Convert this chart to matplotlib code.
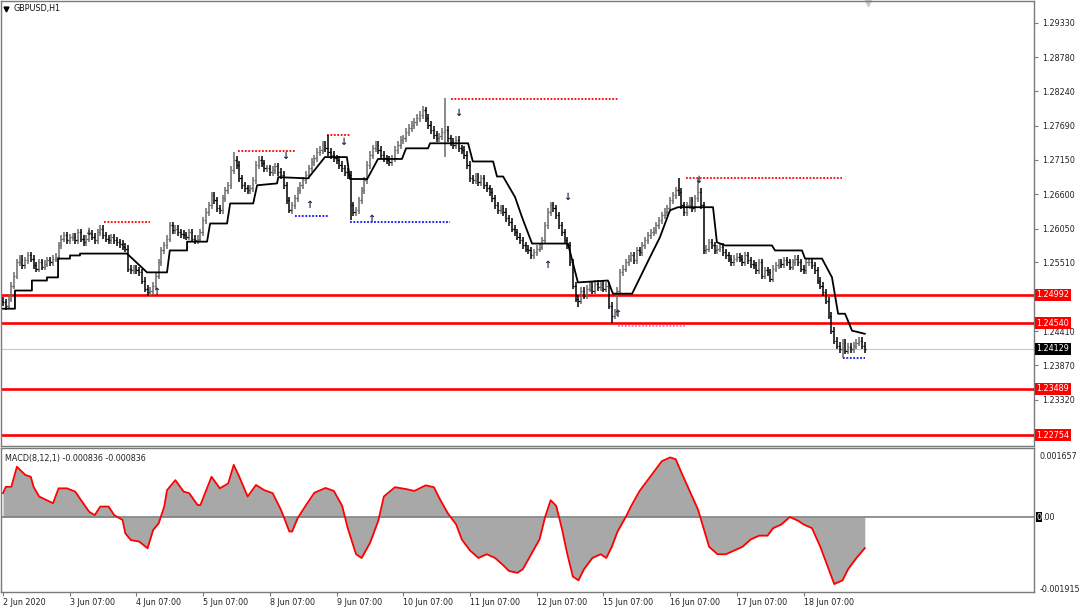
import numpy as np
import matplotlib
matplotlib.use("Agg")
import matplotlib.pyplot as plt
from matplotlib.transforms import blended_transform_factory

W, H = 1080, 608
FS = 5.8
BAR_UP = "#6a6a6a"
BAR_DN = "#000000"
FRAME = "#7a7a7a"
WICK = 0.0006

# hourly closes, 2 Jun 07:00 -> 19 Jun
close = [
    1.2487, 1.2482, 1.2493, 1.2514, 1.2530, 1.2551, 1.2557, 1.2546, 1.2554, 1.2562,
    1.2557, 1.2546, 1.2541, 1.2551, 1.2544, 1.2549, 1.2554, 1.2551, 1.2557, 1.2560,
    1.2578, 1.2589, 1.2594, 1.2586, 1.2591, 1.2592, 1.2586, 1.2599, 1.2589, 1.2583,
    1.2589, 1.2596, 1.2592, 1.2586, 1.2599, 1.2605, 1.2594, 1.2589, 1.2586, 1.2591,
    1.2586, 1.2583, 1.2580, 1.2576, 1.2573, 1.2541, 1.2538, 1.2541, 1.2538, 1.2535,
    1.2522, 1.2509, 1.2503, 1.2506, 1.2514, 1.2530, 1.2551, 1.2570, 1.2578, 1.2589,
    1.2610, 1.2602, 1.2605, 1.2599, 1.2596, 1.2594, 1.2592, 1.2599, 1.2589, 1.2586,
    1.2589, 1.2599, 1.2618, 1.2631, 1.2642, 1.2658, 1.2650, 1.2637, 1.2634, 1.2653,
    1.2666, 1.2674, 1.2698, 1.2714, 1.2706, 1.2685, 1.2674, 1.2669, 1.2666, 1.2669,
    1.2682, 1.2706, 1.2714, 1.2709, 1.2701, 1.2701, 1.2695, 1.2698, 1.2704, 1.2695,
    1.2690, 1.2674, 1.2650, 1.2634, 1.2642, 1.2653, 1.2666, 1.2674, 1.2682, 1.2690,
    1.2701, 1.2711, 1.2717, 1.2727, 1.2730, 1.2738, 1.2733, 1.2727, 1.2722, 1.2717,
    1.2714, 1.2706, 1.2701, 1.2695, 1.2690, 1.2642, 1.2631, 1.2634, 1.2650, 1.2666,
    1.2682, 1.2706, 1.2722, 1.2733, 1.2738, 1.2730, 1.2722, 1.2717, 1.2714, 1.2711,
    1.2717, 1.2730, 1.2738, 1.2746, 1.2749, 1.2759, 1.2765, 1.2770, 1.2775, 1.2781,
    1.2786, 1.2794, 1.2781, 1.2770, 1.2762, 1.2754, 1.2749, 1.2752, 1.2759, 1.2762,
    1.2749, 1.2743, 1.2738, 1.2746, 1.2733, 1.2730, 1.2722, 1.2706, 1.2685, 1.2682,
    1.2688, 1.2679, 1.2685, 1.2674, 1.2669, 1.2663, 1.2653, 1.2642, 1.2634, 1.2637,
    1.2631, 1.2621, 1.2615, 1.2605, 1.2599, 1.2592, 1.2586, 1.2578, 1.2573, 1.2570,
    1.2562, 1.2567, 1.2573, 1.2576, 1.2586, 1.2610, 1.2631, 1.2642, 1.2637, 1.2626,
    1.2610, 1.2599, 1.2586, 1.2578, 1.2551, 1.2514, 1.2493, 1.2490, 1.2506, 1.2498,
    1.2509, 1.2514, 1.2506, 1.2517, 1.2512, 1.2516, 1.2509, 1.2514, 1.2482, 1.2466,
    1.2471, 1.2506, 1.2535, 1.2541, 1.2551, 1.2557, 1.2562, 1.2554, 1.2570, 1.2567,
    1.2578, 1.2586, 1.2594, 1.2599, 1.2602, 1.2610, 1.2618, 1.2626, 1.2631, 1.2637,
    1.2650, 1.2658, 1.2666, 1.2663, 1.2642, 1.2631, 1.2642, 1.2650, 1.2637, 1.2653,
    1.2663, 1.2642, 1.2570, 1.2573, 1.2583, 1.2578, 1.2570, 1.2573, 1.2576, 1.2567,
    1.2562, 1.2557, 1.2551, 1.2557, 1.2560, 1.2557, 1.2551, 1.2562, 1.2554, 1.2548,
    1.2546, 1.2538, 1.2551, 1.2530, 1.2538, 1.2535, 1.2525, 1.2541, 1.2546, 1.2551,
    1.2548, 1.2554, 1.2551, 1.2544, 1.2551, 1.2557, 1.2551, 1.2541, 1.2538, 1.2551,
    1.2551, 1.2546, 1.2538, 1.2522, 1.2514, 1.2503, 1.2490, 1.2466, 1.2442, 1.2426,
    1.2418, 1.2413, 1.2423, 1.2410, 1.2416, 1.2413, 1.2418, 1.2423, 1.2426, 1.2418,
    1.2413,
]
first_open = 1.2490

# bars whose high / low stick out of the body
hi_bar = [83, 117, 152, 159, 243, 250]
hi_val = [1.2727, 1.2754, 1.2799, 1.2813, 1.2685, 1.2685]
lo_bar = [1, 103, 125, 159, 207, 219, 302]
lo_val = [1.2475, 1.2629, 1.2618, 1.2719, 1.2479, 1.2455, 1.2399]

# black trailing line (bar, price vertices)
trail_bar = [0, 4.3, 4.3, 10.4, 10.4, 15.8, 15.8, 19.8, 19.8, 24.1, 24.1, 27.7, 27.7,
             44.6, 51.8, 59, 60, 66.2, 66.2, 73.4, 74.5, 80.6, 81.7, 90, 91.4, 98.6,
             99, 109.7, 115.8, 123.7, 124.8, 131, 134.9, 143.5, 145, 152.9, 153.6,
             167.3, 169, 176.3, 177.7, 179.9, 184.2, 186.7, 190.3, 203.2, 206.8,
             217.6, 219.4, 226.3, 232.7, 236.3, 239.9, 242.8, 255.4, 256.8, 259.7,
             276.6, 277.7, 287.4, 288.5, 294.6, 298.2, 300.4, 302.9, 305.4, 310]
trail_val = [1.2477, 1.2477, 1.2506, 1.2506, 1.2522, 1.2522, 1.2527, 1.2527, 1.2557,
             1.2557, 1.2562, 1.2562, 1.2565, 1.2565, 1.2535, 1.2535, 1.2570, 1.2570,
             1.2584, 1.2584, 1.2613, 1.2613, 1.2645, 1.2645, 1.2674, 1.2677, 1.2687,
             1.2685, 1.2719, 1.2719, 1.2684, 1.2684, 1.2716, 1.2716, 1.2733, 1.2733,
             1.2741, 1.2741, 1.2712, 1.2712, 1.2688, 1.2688, 1.2655, 1.2623, 1.2581,
             1.2581, 1.2519, 1.2522, 1.2501, 1.2501, 1.2559, 1.2591, 1.2634, 1.2639,
             1.2639, 1.2583, 1.2578, 1.2578, 1.2570, 1.2570, 1.2557, 1.2557, 1.2527,
             1.2469, 1.2469, 1.2442, 1.2437]

# dotted resistance / support segments: start bar, end bar, price
red_seg = [(36.3, 52.9, 1.2615), (84.5, 105, 1.2728), (116.5, 124.8, 1.2754),
           (161.2, 221.2, 1.2812), (245.7, 301.8, 1.2685)]
pink_seg = [(221.2, 245.7, 1.2450)]
blue_seg = [(105, 116.9, 1.2625), (124.8, 160.8, 1.2615), (302.2, 310, 1.2399)]

# signal arrows
dn_bar = [30.6, 101.4, 122.3, 163.7, 202.9, 250]
dn_val = [1.2599, 1.2720, 1.2743, 1.2789, 1.2655, 1.2682]
up_bar = [55, 110, 132.4, 195.7, 220.9]
up_val = [1.2503, 1.2642, 1.2620, 1.2546, 1.2468]

levels = [1.24992, 1.24540, 1.23489, 1.22754]
last_price = 1.24129
price_ticks = [1.29330, 1.28780, 1.28240, 1.27690, 1.27150, 1.26600, 1.26050,
               1.25510, 1.24410, 1.23870, 1.23320]

macd_bar = [0, 1, 3, 5, 8, 10, 11, 13, 18, 20, 23, 26, 28, 31, 33, 35, 38, 40, 43, 44,
            46, 49, 52, 54, 56, 58, 59, 62, 65, 67, 70, 71, 75, 78, 81, 83, 85, 88, 91,
            94, 97, 100, 101, 103, 104, 106,
            109, 112, 116, 119, 122, 124, 127, 129, 132, 135, 137, 141, 145, 148, 152,
            155, 157, 160, 163, 165, 168, 171, 174, 177, 180, 182, 185, 187, 190, 193,
            195, 197, 199, 201, 203, 205, 207, 209, 212, 215, 217, 219, 221, 224, 226,
            229, 232, 235, 237, 240, 242, 244, 247, 250, 252, 254, 257, 260, 263, 266,
            269, 272, 275, 277, 280, 283, 286, 288, 291, 294, 297, 299, 302, 304, 307,
            310]
macd = [0.00064, 0.00081, 0.00081, 0.00135, 0.00113, 0.00108, 0.00081, 0.00055,
        0.00037, 0.00077, 0.00077, 0.00068, 0.00046, 0.00014, 0.00005, 0.00028,
        0.00028, 0.00005, -0.00008, -0.00044, -0.00062, -0.00066, -0.00084, -0.00035,
        -0.00017, 0.00028, 0.00072, 0.00099, 0.00068, 0.00064, 0.00032, 0.00032,
        0.00108, 0.00077, 0.00090, 0.00140, 0.00108, 0.00055, 0.00086, 0.00072,
        0.00064, 0.00019, 0.00000, -0.00039, -0.00039, -0.00003,
        0.00032, 0.00065, 0.00078, 0.00070, 0.00030, -0.00030, -0.00100, -0.00110,
        -0.00070, -0.00010, 0.00055, 0.00080, 0.00075, 0.00070, 0.00085, 0.00080,
        0.00050, 0.00010, -0.00020, -0.00060, -0.00090, -0.00110, -0.00100, -0.00110,
        -0.00130, -0.00145, -0.00150, -0.00140, -0.00100, -0.00060, 0.00000, 0.00045,
        0.00030, -0.00030, -0.00100, -0.00160, -0.00170, -0.00140, -0.00110, -0.00100,
        -0.00110, -0.00080, -0.00040, 0.00000, 0.00030, 0.00070, 0.00100, 0.00130,
        0.00150, 0.00160, 0.00155, 0.00120, 0.00070, 0.00020, -0.00030, -0.00080,
        -0.00100, -0.00100, -0.00090, -0.00080, -0.00060, -0.00050, -0.00050, -0.00030,
        -0.00020, 0.00000, -0.00010, -0.00020, -0.00030, -0.00080, -0.00140, -0.00180,
        -0.00170, -0.00140, -0.00110, -0.000836]
macd_ticks = [0.001657, -0.001915]

date_bar = [0, 24, 48, 72, 96, 120, 144, 168, 192, 216, 240, 264, 288]
date_lbl = ["2 Jun 2020", "3 Jun 07:00", "4 Jun 07:00", "5 Jun 07:00", "8 Jun 07:00",
            "9 Jun 07:00", "10 Jun 07:00", "11 Jun 07:00", "12 Jun 07:00",
            "15 Jun 07:00", "16 Jun 07:00", "17 Jun 07:00", "18 Jun 07:00"]

# ---------------------------------------------------------------- layout
def rect(x0, y0, x1, y1):
    return [x0 / W, 1 - y1 / H, (x1 - x0) / W, (y1 - y0) / H]

plt.rcParams["font.family"] = "DejaVu Sans"
fig = plt.figure(figsize=(W / 100, H / 100), dpi=100, facecolor="white")
ax = fig.add_axes(rect(1, 1, 1034, 446))
axm = fig.add_axes(rect(1, 448, 1034, 592), sharex=ax)

XL = (-0.72, -0.72 + 1033 / 2.78)
ax.set_xlim(*XL)
ax.set_ylim(1.22579, 1.29681)
axm.set_ylim(-0.0020138, 0.0018527)

# ---------------------------------------------------------------- price bars
c = np.array(close)
o = np.r_[first_open, c[:-1]]
hi = np.maximum(o, c) + WICK
lo = np.minimum(o, c) - WICK
hi[hi_bar] = hi_val
lo[lo_bar] = lo_val
x = np.arange(len(c))
col = np.where(c >= o, BAR_UP, BAR_DN)

for lv in levels:
    ax.axhline(lv, color="#ff0000", lw=1.9, zorder=1)
ax.axhline(last_price, color="#c8c8c8", lw=0.8, zorder=1)

ax.vlines(x, lo, hi, colors=col, lw=1.1, zorder=3)
ax.hlines(o, x - 0.45, x, colors=col, lw=0.9, zorder=3)
ax.hlines(c, x, x + 0.45, colors=col, lw=0.9, zorder=3)

ax.plot(trail_bar, trail_val, color="black", lw=1.3, zorder=4)

for segs, colr in ((red_seg, "#ff0000"), (pink_seg, "#d98ad4"), (blue_seg, "#1010ff")):
    for a, b, p in segs:
        ax.plot([a, b], [p, p], color=colr, lw=1.3, ls=(0, (1, 0.9)), zorder=2)

for b, p in zip(dn_bar, dn_val):
    ax.text(b, p, "\u2193", ha="center", va="center", fontsize=7, weight="bold",
            color="#1e2a48", zorder=5)
for b, p in zip(up_bar, up_val):
    ax.text(b, p, "\u2191", ha="center", va="center", fontsize=7, weight="bold",
            color="#1e2a48", zorder=5)

# right price scale
ax.yaxis.tick_right()
ax.set_yticks(price_ticks)
ax.set_yticklabels([f"{v:.5f}" for v in price_ticks])
ax.tick_params(axis="y", length=3, width=0.8, color=FRAME, labelsize=FS, pad=3,
               labelcolor="#222222")
ax.tick_params(axis="x", bottom=False, labelbottom=False)
tr = blended_transform_factory(ax.transAxes, ax.transData)
for lv in levels:
    ax.plot([1.0, 1.002], [lv, lv], color="#ff0000", lw=1.9, transform=tr, clip_on=False)
    ax.text(1.0025, lv, f"{lv:.5f}", transform=tr, ha="left", va="center", fontsize=FS,
            color="white", clip_on=False,
            bbox=dict(boxstyle="square,pad=0.18", fc="#ff0000", ec="none"))
ax.text(1.0025, last_price, f"{last_price:.5f}", transform=tr, ha="left", va="center",
        fontsize=FS, color="white", clip_on=False,
        bbox=dict(boxstyle="square,pad=0.18", fc="black", ec="none"))

# title + chart-shift marker
ax.plot([0.0045], [0.983], marker="v", ms=3.5, color="black", transform=ax.transAxes,
        clip_on=False)
ax.text(0.012, 0.983, "GBPUSD,H1", transform=ax.transAxes, ha="left", va="center",
        fontsize=FS, color="#111111")
ax.plot([311.3], [0.996], marker="v", ms=5, color="#c8c8c8",
        transform=blended_transform_factory(ax.transData, ax.transAxes), clip_on=False)

# ---------------------------------------------------------------- MACD panel
axm.fill_between(macd_bar, macd, 0, color="#a8a8a8", lw=0, zorder=1)
axm.axhline(0, color="#808080", lw=1.2, zorder=2)
axm.plot(macd_bar, macd, color="#ff0000", lw=1.3, zorder=3)
axm.text(0.004, 0.955, "MACD(8,12,1) -0.000836 -0.000836", transform=axm.transAxes,
         ha="left", va="top", fontsize=FS, color="#222222")

axm.yaxis.tick_right()
axm.set_yticks(macd_ticks)
axm.set_yticklabels(["0.001657", "-0.001915"])
axm.tick_params(axis="y", length=0, labelsize=FS, pad=4, labelcolor="#222222")
trm = blended_transform_factory(axm.transAxes, axm.transData)
axm.text(1.0025, 0, "0", transform=trm, ha="left", va="center", fontsize=FS,
         color="white", clip_on=False,
         bbox=dict(boxstyle="square,pad=0.1", fc="black", ec="none"))
axm.text(1.0025 + 5.6 / 1033, 0, ".00", transform=trm, ha="left", va="center",
         fontsize=FS, color="#222222", clip_on=False)

axm.set_xticks(date_bar)
axm.set_xticklabels(date_lbl, ha="left")
axm.tick_params(axis="x", length=3, width=0.8, color=FRAME, labelsize=FS, pad=1.5,
                labelcolor="#222222")

for a in (ax, axm):
    for s in a.spines.values():
        s.set_color(FRAME)
        s.set_linewidth(1.0)
    a.set_facecolor("white")

fig.savefig("out.png", dpi=100, facecolor="white")
